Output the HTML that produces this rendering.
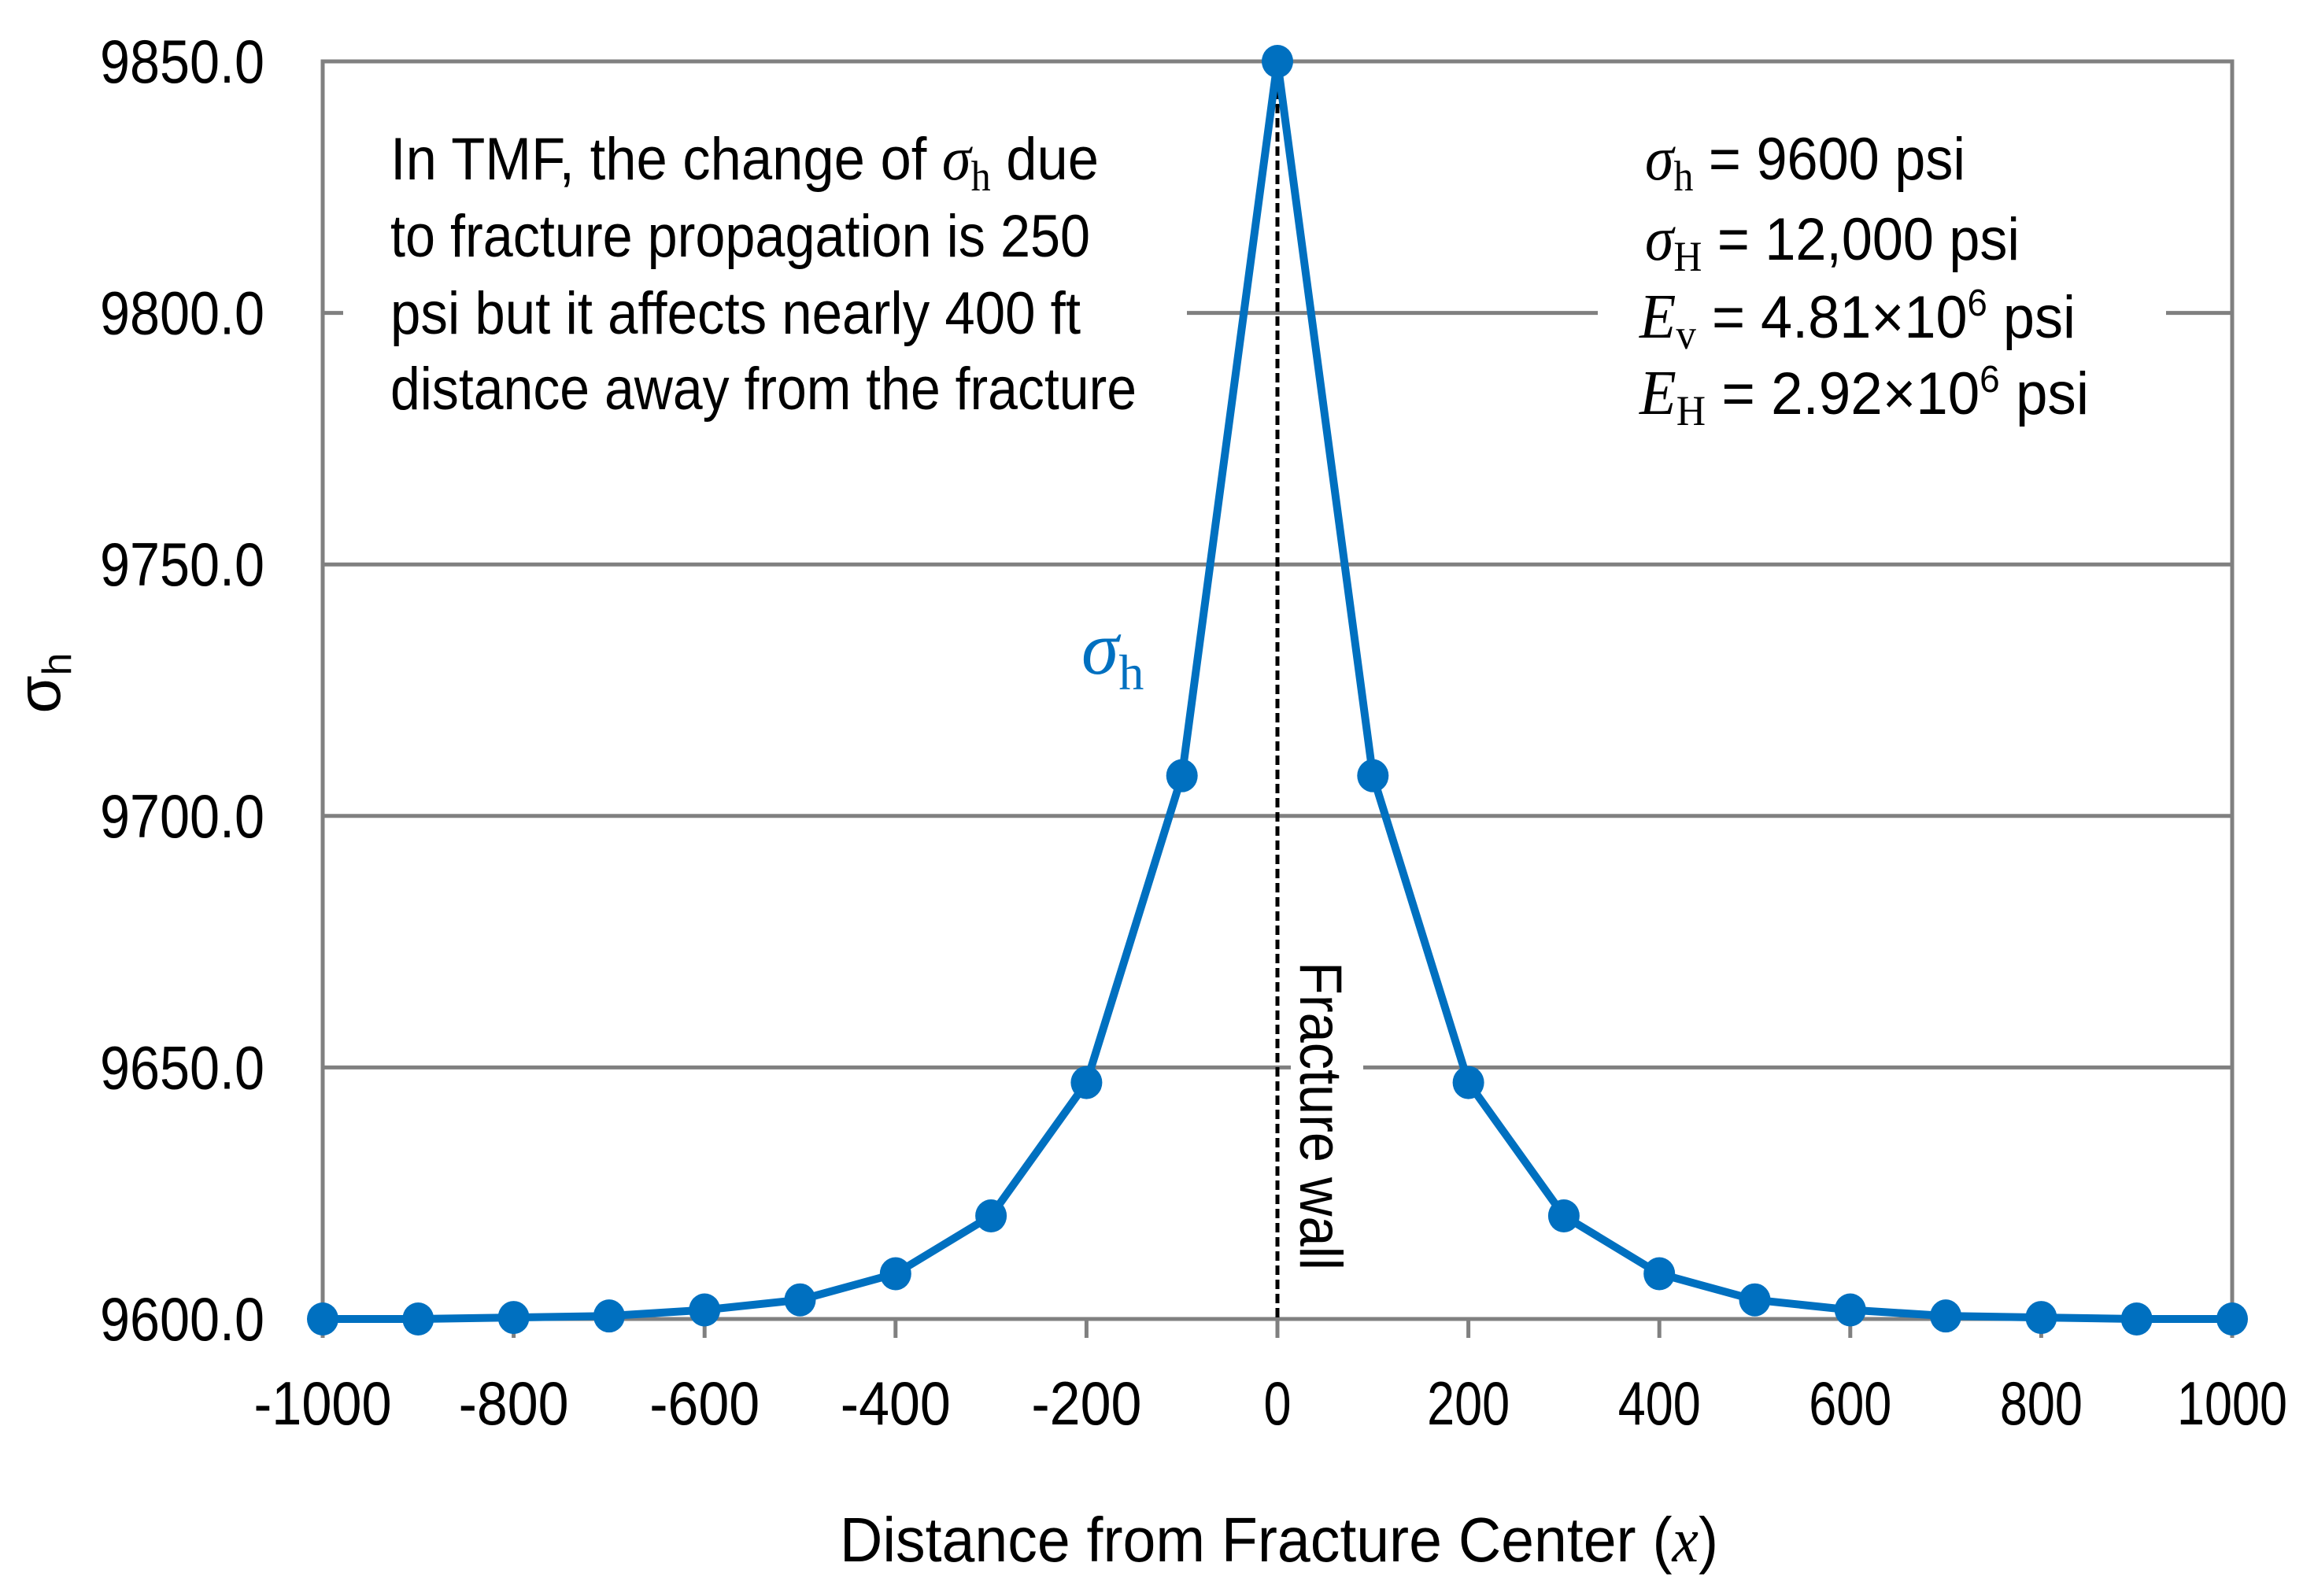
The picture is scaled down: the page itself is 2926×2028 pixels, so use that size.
<!DOCTYPE html>
<html><head><meta charset="utf-8"><style>html,body{margin:0;padding:0;background:#fff}svg{display:block}</style></head>
<body>
<svg id="chart" xmlns="http://www.w3.org/2000/svg" width="2926" height="2028" viewBox="0 0 2926 2028" font-family="'Liberation Sans', sans-serif">
<rect width="2926" height="2028" fill="#fff"/>
<g id="grid"></g>
<g id="axes"></g>
<line x1="1623" y1="78" x2="1623" y2="1676" stroke="#000" stroke-width="5" stroke-dasharray="12,6"/>
<g id="series"></g>
<g id="labels"></g>
<rect x="436" y="150" width="1072" height="400" fill="#fff"/>
<g font-size="76" fill="#000">
<text x="496" y="228" textLength="900" lengthAdjust="spacingAndGlyphs">In TMF, the change of <tspan font-family="'Liberation Serif', serif" font-style="italic" font-size="80">σ</tspan><tspan font-family="'Liberation Serif', serif" font-size="54" dy="14">h</tspan><tspan dy="-14"> due</tspan></text>
<text x="496" y="326" textLength="889" lengthAdjust="spacingAndGlyphs">to fracture propagation is 250</text>
<text x="496" y="424" textLength="877" lengthAdjust="spacingAndGlyphs">psi but it affects nearly 400 ft</text>
<text x="496" y="520" textLength="948" lengthAdjust="spacingAndGlyphs">distance away from the fracture</text>
</g>
<rect x="2030" y="150" width="722" height="400" fill="#fff"/>
<g font-size="76" fill="#000">
<text x="2090" y="228" textLength="407" lengthAdjust="spacingAndGlyphs"><tspan font-family="'Liberation Serif', serif" font-style="italic" font-size="80">σ</tspan><tspan font-family="'Liberation Serif', serif" font-size="54" dy="14">h</tspan><tspan dy="-14"> = 9600 psi</tspan></text>
<text x="2090" y="330" textLength="476" lengthAdjust="spacingAndGlyphs"><tspan font-family="'Liberation Serif', serif" font-style="italic" font-size="80">σ</tspan><tspan font-family="'Liberation Serif', serif" font-size="54" dy="14">H</tspan><tspan dy="-14"> = 12,000 psi</tspan></text>
<text x="2083" y="429" textLength="554" lengthAdjust="spacingAndGlyphs"><tspan font-family="'Liberation Serif', serif" font-style="italic" font-size="80">E</tspan><tspan font-family="'Liberation Serif', serif" font-size="54" dy="14">v</tspan><tspan dy="-14"> = 4.81×10</tspan><tspan font-size="48" dy="-28">6</tspan><tspan dy="28"> psi</tspan></text>
<text x="2083" y="526" textLength="571" lengthAdjust="spacingAndGlyphs"><tspan font-family="'Liberation Serif', serif" font-style="italic" font-size="80">E</tspan><tspan font-family="'Liberation Serif', serif" font-size="54" dy="14">H</tspan><tspan dy="-14"> = 2.92×10</tspan><tspan font-size="48" dy="-28">6</tspan><tspan dy="28"> psi</tspan></text>
</g>
<rect x="1640" y="1220" width="92" height="400" fill="#fff"/>
<text transform="translate(1652,1222) rotate(90)" font-size="76" fill="#000" textLength="392" lengthAdjust="spacingAndGlyphs">Fracture wall</text>
<text x="1374" y="856" fill="#0070C0" font-family="'Liberation Serif', serif"><tspan font-style="italic" font-size="96">σ</tspan><tspan font-size="64" dy="20">h</tspan></text>
<text transform="translate(76,868) rotate(-90)" text-anchor="middle" font-size="78" fill="#000">σ<tspan font-size="52" dy="14">h</tspan></text>
<text x="1625" y="1984" text-anchor="middle" font-size="80" fill="#000" textLength="1116" lengthAdjust="spacingAndGlyphs">Distance from Fracture Center (<tspan font-family="'Liberation Serif', serif" font-style="italic">x</tspan>)</text>
</svg>
<script>
const xValues = [-1000,-900,-800,-700,-600,-500,-400,-300,-200,-100,0,100,200,300,400,500,600,700,800,900,1000];
const sigmaValues = [9600,9600,9600.3,9600.6,9601.8,9603.8,9609,9620.5,9647,9708,9850,9708,9647,9620.5,9609,9603.8,9601.8,9600.6,9600.3,9600,9600];
const yTicks = [9600,9650,9700,9750,9800,9850];
const yTickLabels = ["9600.0","9650.0","9700.0","9750.0","9800.0","9850.0"];
const xTicks = [-1000,-800,-600,-400,-200,0,200,400,600,800,1000];

const NS = "http://www.w3.org/2000/svg";
const L = 410, R = 2836, T = 78, B = 1676;
const xMin = -1000, xMax = 1000, yMin = 9600, yMax = 9850;
function sx(v){ return L + (v - xMin) / (xMax - xMin) * (R - L); }
function sy(v){ return B - (v - yMin) / (yMax - yMin) * (B - T); }
function mk(tag, attrs, parent){ const e = document.createElementNS(NS, tag); for (const k in attrs) e.setAttribute(k, attrs[k]); parent.appendChild(e); return e; }

const grid = document.getElementById('grid');
const axes = document.getElementById('axes');
const labels = document.getElementById('labels');
const series = document.getElementById('series');

yTicks.forEach((v, i) => {
  const ln = mk('line', {x1: L, x2: R, y1: sy(v), y2: sy(v), stroke: '#808080', 'stroke-width': 5}, grid);
  
  
  const t = mk('text', {x: 336, y: sy(v) + 27, 'text-anchor': 'end', 'font-size': 78, fill: '#000', textLength: 209, lengthAdjust: 'spacingAndGlyphs'}, labels);
  t.textContent = yTickLabels[i];
  
  
});
const frame = mk('rect', {x: L, y: T, width: R - L, height: B - T, fill: 'none', stroke: '#808080', 'stroke-width': 5}, axes);


xTicks.forEach(v => {
  const tk = mk('line', {x1: sx(v), x2: sx(v), y1: B, y2: B + 24, stroke: '#808080', 'stroke-width': 5}, axes);
  
  
  const t = mk('text', {x: sx(v), y: 1810, 'text-anchor': 'middle', 'font-size': 78, fill: '#000', textLength: String(v).length * 35, lengthAdjust: 'spacingAndGlyphs'}, labels);
  t.textContent = String(v);
  
  
});
const pts = xValues.map((x, i) => sx(x) + ',' + sy(sigmaValues[i])).join(' ');
const pl = mk('polyline', {points: pts, fill: 'none', stroke: '#0070C0', 'stroke-width': 10, 'stroke-linejoin': 'round'}, series);


xValues.forEach((x, i) => {
  const c = mk('ellipse', {cx: sx(x), cy: sy(sigmaValues[i]), rx: 20, ry: 21, fill: '#0070C0'}, series);
  
  
});
</script>
</body></html>
